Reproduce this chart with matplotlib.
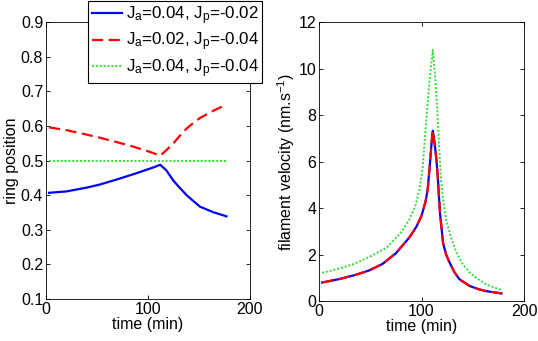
import matplotlib
matplotlib.use("Agg")
import matplotlib.pyplot as plt

# left panel: ring position vs time
t_pos = [3, 20, 40, 53, 70, 86, 100, 106, 112, 118, 125, 131, 138, 145, 151, 164, 177]
pos_blue = [0.407, 0.411, 0.422, 0.431, 0.446, 0.461, 0.475, 0.481, 0.488, 0.472, 0.442, 0.422, 0.400, 0.382, 0.367, 0.351, 0.339]
pos_red = [0.596, 0.588, 0.575, 0.566, 0.553, 0.540, 0.527, 0.521, 0.514, 0.530, 0.550, 0.571, 0.593, 0.610, 0.623, 0.644, 0.662]
t_pos_green = [3, 177]
pos_green = [0.5, 0.5]

# right panel: filament velocity vs time (blue and red overlap)
t_vel = [3, 20, 35, 49, 62, 75, 88, 95, 100, 104, 106, 108, 110, 111,
         113, 114.5, 116, 117, 118, 121, 124, 127.5, 132, 137, 147, 155, 163, 178]
vel_blue = [0.80, 0.95, 1.12, 1.32, 1.60, 2.06, 2.73, 3.20, 3.67, 4.30, 4.80, 5.80, 6.90, 7.33,
            6.70, 6.10, 5.25, 4.50, 3.80, 2.50, 2.00, 1.65, 1.25, 0.94, 0.65, 0.52, 0.43, 0.33]
vel_red = vel_blue
t_vel_green = [3, 20, 33, 50, 66, 80, 88, 94, 98, 101, 105, 108, 111, 113, 115, 117,
               119, 121, 124, 129, 134, 140, 147, 155, 163, 170, 178]
vel_green = [1.22, 1.40, 1.58, 1.92, 2.30, 2.95, 3.50, 4.10, 4.80, 5.70, 8.00, 9.60, 10.80, 9.80, 8.50, 6.80,
             5.25, 4.40, 3.50, 2.70, 2.10, 1.60, 1.22, 0.95, 0.72, 0.60, 0.48]

labels = [r"J$_a$=0.04, J$_p$=-0.02", r"J$_a$=0.02, J$_p$=-0.04", r"J$_a$=0.04, J$_p$=-0.04"]

plt.rcParams["font.family"] = ["Liberation Sans", "DejaVu Sans"]
plt.rcParams["mathtext.fontset"] = "custom"
plt.rcParams["mathtext.rm"] = "Liberation Sans"
plt.rcParams["mathtext.it"] = "Liberation Sans"
plt.rcParams["font.size"] = 11.5

fig = plt.figure(figsize=(5.38, 3.41), dpi=100)
ax1 = fig.add_axes([0.0855, 0.123, 0.379, 0.812])
ax2 = fig.add_axes([0.593, 0.117, 0.381, 0.818])

blue, red, green = "#0000ff", "#ff0000", "#33dd33"

l1, = ax1.plot(t_pos, pos_blue, color=blue, lw=1.6)
l2, = ax1.plot(t_pos, pos_red, color=red, lw=1.6, ls=(0, (5, 2.5)))
l3, = ax1.plot(t_pos_green, pos_green, color=green, lw=1.4, ls=(0, (1, 1)))
ax1.set_xlim(0, 200)
ax1.set_ylim(0.1, 0.9)
ax1.set_xticks([0, 100, 200])
ax1.set_yticks([0.1, 0.2, 0.3, 0.4, 0.5, 0.6, 0.7, 0.8, 0.9])
ax1.set_xlabel("time (min)", labelpad=0)
ax1.set_ylabel("ring position", labelpad=1)

ax2.plot(t_vel, vel_blue, color=blue, lw=1.6)
ax2.plot(t_vel, vel_red, color=red, lw=1.6, ls=(0, (5, 2.5)))
ax2.plot(t_vel_green, vel_green, color=green, lw=1.4, ls=(0, (1, 1)))
ax2.set_xlim(0, 200)
ax2.set_ylim(0, 12)
ax2.set_xticks([0, 100, 200])
ax2.set_yticks([0, 2, 4, 6, 8, 10, 12])
ax2.set_xlabel("time (min)", labelpad=0)
ax2.set_ylabel(r"filament velocity (nm.s$^{-1}$)", labelpad=1)

for ax in (ax1, ax2):
    ax.tick_params(direction="in", top=True, right=True, length=3, width=0.6, pad=2, labelsize=11.5)
    for s in ax.spines.values():
        s.set_linewidth(0.6)

leg = fig.legend([l1, l2, l3], labels, loc="upper left", bbox_to_anchor=(0.164, 0.997),
                 bbox_transform=fig.transFigure, fancybox=False, framealpha=1, edgecolor="black",
                 fontsize=12.2, borderpad=0.2, labelspacing=0.22, handlelength=1.8,
                 handletextpad=0.2, borderaxespad=0)
leg.get_frame().set_linewidth(0.8)

fig.savefig("out.png", dpi=100)
